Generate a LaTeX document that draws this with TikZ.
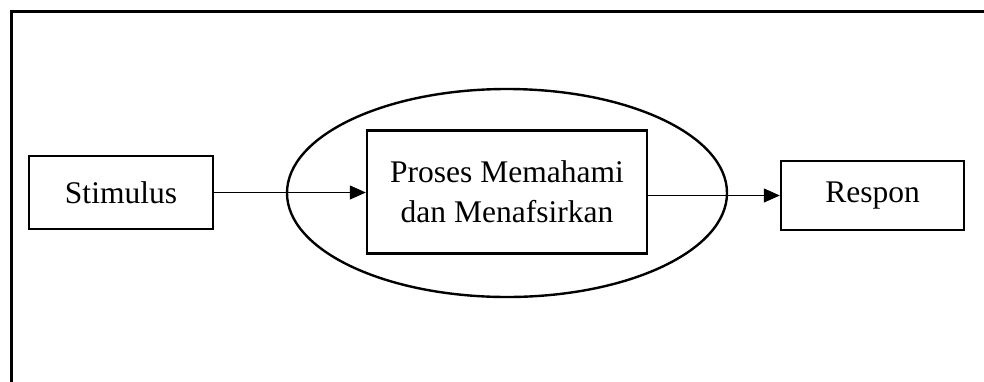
\documentclass[tikz,border=0pt]{standalone}
\usepackage{fontspec}
\setmainfont{Liberation Serif}
\usetikzlibrary{shapes.geometric,arrows.meta}
\begin{document}
\begin{tikzpicture}[x=1pt,y=-1pt,
  box/.style={draw, line width=2.4pt, inner sep=0pt, font=\fontsize{31.5}{40}\selectfont, align=center},
  conn/.style={line width=1.2pt, -{Triangle[length=16pt,width=14pt]}}]
\useasboundingbox (0,0) rectangle (984,381);
\begin{scope}
\clip (0,0) rectangle (984,381);
\draw[line width=3pt] (11,11) rectangle (1010,410);
\end{scope}
\node[ellipse, draw, line width=2.4pt, minimum width=440pt, minimum height=208pt, inner sep=0pt] (ell) at (507,193) {};
\node[box, minimum width=184pt, minimum height=73pt] (stim) at (121,192.5) {Stimulus};
\node[box, minimum width=280pt, minimum height=123pt] (proc) at (507,192) {Proses Memahami\\dan Menafsirkan};
\node[box, minimum width=183pt, minimum height=69pt] (resp) at (872.5,195.5) {Respon};
\draw[conn] (stim.east) -- (stim.east -| proc.west);
\draw[conn] (proc.east |- resp.west) -- (resp.west);
\end{tikzpicture}
\end{document}
